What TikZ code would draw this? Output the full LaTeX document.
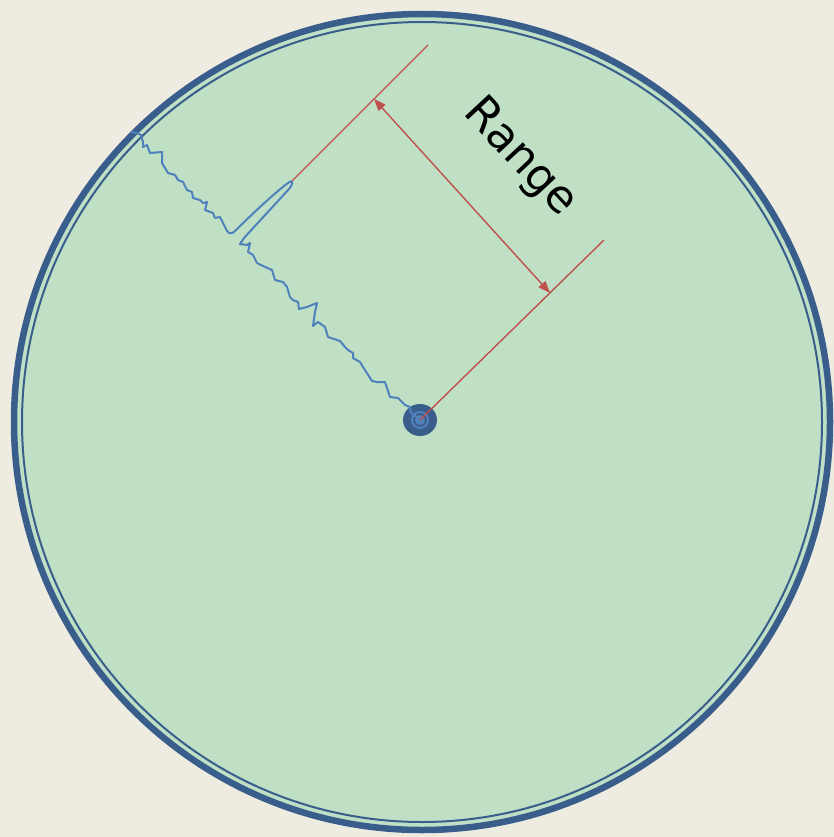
\documentclass[tikz,border=0pt]{standalone}
\usepackage{fontspec}
\newfontfamily\labelfont{DejaVu Sans}
\usetikzlibrary{arrows.meta}
\definecolor{bgc}{HTML}{EEEBE1}
\definecolor{fillg}{HTML}{BFE0C5}
\definecolor{darkb}{HTML}{3A5E8C}
\definecolor{wigb}{HTML}{4F81BD}
\definecolor{redl}{HTML}{C0504D}
\tikzset{
  redline/.style={draw=redl, line width=1.4pt},
  wiggle/.style={draw=wigb, line width=2pt, line join=round, line cap=round},
}
\begin{document}
\begin{tikzpicture}[x=1pt,y=-1pt]
\fill[bgc] (0,0) rectangle (834,837);
\useasboundingbox (0,0) rectangle (834,837);
\coordinate (C) at (422,422);
\fill[fillg] (C) circle[radius=408];
\draw[darkb, line width=6.5pt] (C) circle[radius=408];
\draw[darkb, line width=2pt] (C) circle[radius=400];
% centre marker
\coordinate (S) at (420,420);
\fill[darkb] (S) ellipse[x radius=17, y radius=16];
\draw[wigb, line width=2pt] (S) circle[radius=8];
\fill[wigb] (S) circle[radius=5];
% wiggly path
\draw[wiggle] (131,132) -- (137,133) -- (141,135) -- (143,142) -- (143,147) -- (147,145) -- (150,153) -- (162,152) -- (162,163) -- (165,168) -- (168,173) -- (175,175) -- (178,180) -- (183,182) -- (187,190) -- (192,192) -- (193,198) -- (200,200) -- (203,203) -- (207,202) -- (205,210) -- (213,213) -- (215,218) -- (220,217) -- (227,231)
  .. controls (229,234) and (232,234) .. (235,231)
  .. controls (252,214) and (278,190) .. (288,183)
  .. controls (293,179) and (294,183) .. (289,189)
  -- (244,238) -- (240,244) -- (247,245) -- (250,243) -- (248,252) -- (253,255) -- (257,263) -- (263,266) -- (272,270) -- (275,280) -- (283,282) -- (287,287) -- (290,297) -- (293,300) -- (298,302) -- (299,309) -- (307,307) -- (317,303) -- (315,312) -- (313,326) -- (318,322) -- (325,327) -- (328,337) -- (337,340) -- (340,341) -- (345,347) -- (348,350) -- (353,353) -- (353,358) -- (360,362) -- (363,367) -- (372,381) -- (377,382) -- (385,382) -- (387,388) -- (390,397) -- (398,398) -- (405,405) -- (410,407) -- (411,413) -- (417,417);
% red range lines
\coordinate (L1a) at (292,181);
\coordinate (L1b) at (428,45);
\coordinate (L2b) at (604,240);
\coordinate (A1) at (374,99);
\coordinate (A2) at (550,293);
\draw[redline] (L1a) -- (L1b);
\draw[redline] (S) -- (L2b);
\draw[redline, {Triangle[length=12pt,width=9pt]}-{Triangle[length=12pt,width=9pt]}] (A1) -- (A2);
\node[rotate=-47, font=\labelfont\fontsize{45}{54}\selectfont, inner sep=0pt] (R) at (520,158) {Range};
\end{tikzpicture}
\end{document}
